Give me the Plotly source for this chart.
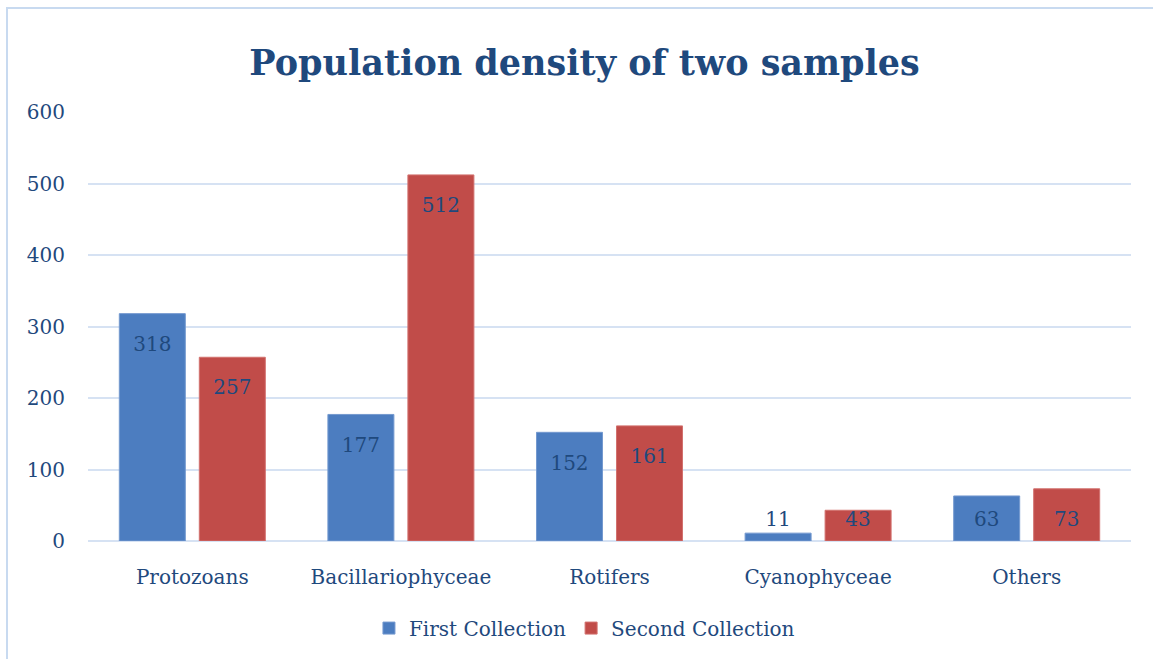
import plotly.graph_objects as go

categories = ["Protozoans", "Bacillariophyceae", "Rotifers", "Cyanophyceae", "Others"]
first_collection = [318, 177, 152, 11, 63]
second_collection = [257, 512, 161, 43, 73]
series_names = ["First Collection", "Second Collection"]
title_text = "Population density of two samples"

FONT = "DejaVu Serif"
TXT = "#1F497D"
GRID = "#D6E2F3"

def label_pos(vals):
    # label centre: a fixed distance below the bar top, never lower than near the baseline
    return [max(v - 45, 28) for v in vals]

fig = go.Figure()
fig.add_trace(go.Bar(
    x=categories, y=first_collection, name=series_names[0], offsetgroup="1",
    marker=dict(color="#4C7DC0", line=dict(color="#7499CF", width=1)),
    hoverinfo="skip",
))
fig.add_trace(go.Bar(
    x=categories, y=second_collection, name=series_names[1], offsetgroup="2",
    marker=dict(color="#C14C49", line=dict(color="#D2716E", width=1)),
    hoverinfo="skip",
))
fig.add_trace(go.Scatter(
    x=categories, y=label_pos(first_collection), mode="text", offsetgroup="1",
    text=[str(v) for v in first_collection], textposition="middle center",
    textfont=dict(family=FONT, size=20, color=TXT), showlegend=False, hoverinfo="skip",
))
fig.add_trace(go.Scatter(
    x=categories, y=label_pos(second_collection), mode="text", offsetgroup="2",
    text=[str(v) for v in second_collection], textposition="middle center",
    textfont=dict(family=FONT, size=20, color=TXT), showlegend=False, hoverinfo="skip",
))

fig.update_layout(
    width=1153, height=659,
    margin=dict(l=88, r=22, t=112, b=118),
    paper_bgcolor="white", plot_bgcolor="white",
    barmode="group", bargap=0.233, bargroupgap=0.175,
    scattermode="group", scattergap=0.233,
    font=dict(family=FONT, size=20, color=TXT),
    title=dict(text="<b>" + title_text + "</b>", x=0.507, xref="container",
               y=1 - 63 / 659, yref="container", xanchor="center", yanchor="middle",
               font=dict(family=FONT, size=35, color=TXT)),
    legend=dict(orientation="h", x=0.476, xanchor="center", y=-0.203, yanchor="middle",
                font=dict(family=FONT, size=20, color=TXT), itemclick=False,
                traceorder="normal"),
    showlegend=True,
    shapes=[dict(type="rect", xref="paper", yref="paper",
                 x0=(7 - 88) / 1043, x1=1.2, y0=-0.6, y1=(541 - 8) / 429,
                 line=dict(color="#C8DAF0", width=2), fillcolor="rgba(0,0,0,0)", layer="below")],
)
fig.update_yaxes(range=[0, 600], dtick=100, showgrid=True, gridcolor=GRID, gridwidth=1.5,
                 zeroline=True, zerolinecolor=GRID, zerolinewidth=1.5, showline=False,
                 ticks="", ticklabelstandoff=22, tickfont=dict(family=FONT, size=20, color=TXT),
                 fixedrange=True)
fig.update_xaxes(showgrid=False, showline=False, ticks="", ticklabelstandoff=22,
                 tickfont=dict(family=FONT, size=20, color=TXT), fixedrange=True)

fig.write_html("out.html")
